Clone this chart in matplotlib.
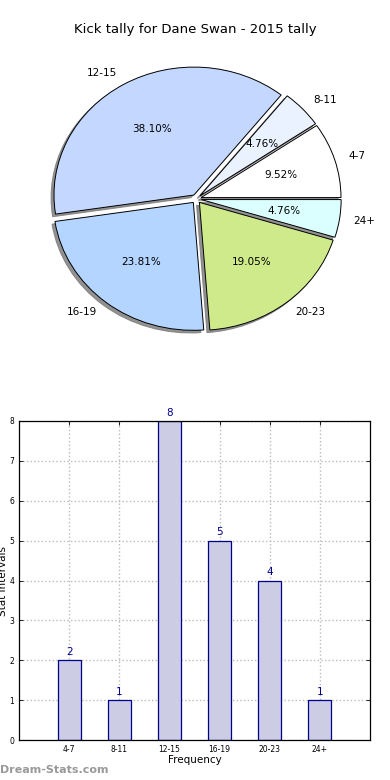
import matplotlib
matplotlib.use("Agg")
import matplotlib.pyplot as plt
import numpy as np

# Kick tally intervals for Dane Swan, 2015
intervals = ["4-7", "8-11", "12-15", "16-19", "20-23", "24+"]
counts = [2, 1, 8, 5, 4, 1]
pie_colors = ["#FFFFFF", "#EAF1FF", "#C4D8FF", "#B3D5FF", "#CFEA8B", "#DBFFFF"]
title = "Kick tally for Dane Swan - 2015 tally"

fig = plt.figure(figsize=(3.9, 7.8), dpi=100)
fig.text(0.5, 1 - 30/780, title, ha="center", va="center", fontsize=9.5)

# pie (axes stretched, so the pie comes out a bit squashed like the original)
ax1 = fig.add_axes([0.055, 0.54, 0.897, 0.41])
wedges, texts, autotexts = ax1.pie(
    counts,
    labels=intervals,
    colors=pie_colors,
    explode=[0.035]*len(counts),
    autopct="%1.2f%%",
    shadow={"ox": -0.015, "oy": -0.015, "facecolor": "#777777",
            "edgecolor": "#777777", "alpha": 0.8},
    startangle=0,
    wedgeprops={"edgecolor": "black", "linewidth": 0.7},
    textprops={"fontsize": 7.5},
)
ax1.set_aspect("auto")
ax1.set_xlim(-1.25, 1.25)
ax1.set_ylim(-1.25, 1.25)

# bar chart
ax2 = fig.add_axes([19/390, 40/780, 351/390, 319/780])
x = np.arange(len(intervals))
ax2.bar(x, counts, width=0.46, color="#CCCCE5", edgecolor="#00008B", linewidth=0.9, zorder=2)
for xi, c in zip(x, counts):
    ax2.text(xi, c + 0.08, str(c), ha="center", va="bottom", fontsize=7.5, color="#00008B")
ax2.set_xlim(-1, 6)
ax2.set_ylim(0, 8)
ax2.set_xticks(x)
ax2.set_xticklabels(intervals)
ax2.set_yticks(range(9))
ax2.tick_params(direction="in", top=True, right=True, labelsize=5.5, length=3, width=0.6)
ax2.grid(True, linestyle=":", color="#BBBBBB", linewidth=1, zorder=0)
ax2.set_axisbelow(True)
for s in ax2.spines.values():
    s.set_linewidth(0.9)
ax2.set_xlabel("Frequency", fontsize=7.5, labelpad=1)
ax2.set_ylabel("Stat Intervals", fontsize=7.5, labelpad=1)

fig.text(0.0, 1 - 770/780, "Dream-Stats.com", ha="left", va="center",
         fontsize=8, color="#999999", fontweight="bold")

fig.savefig("out.png", dpi=100)
